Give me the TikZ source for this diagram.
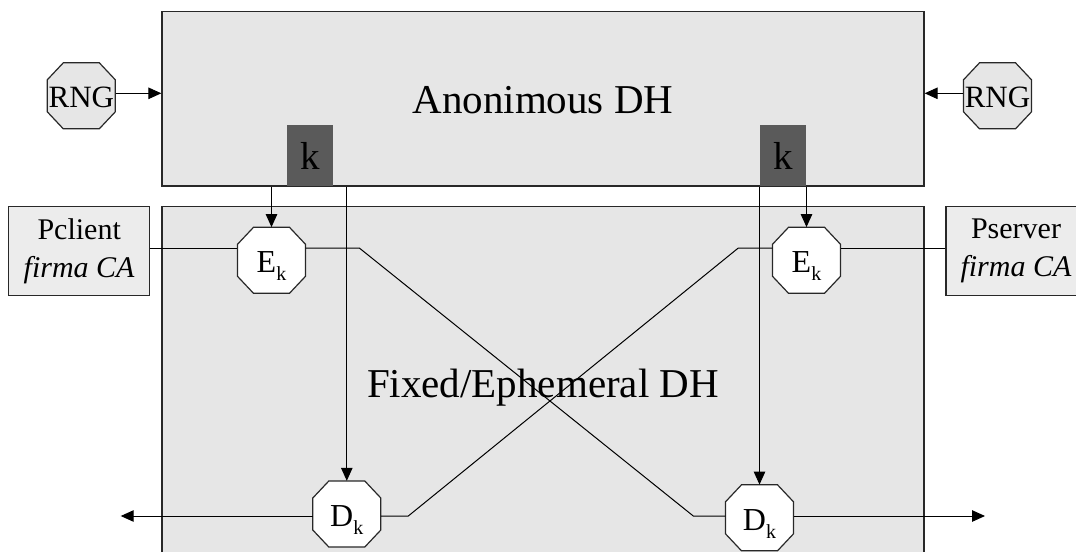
\documentclass[tikz,border=0pt]{standalone}
\usepackage{fontspec}
\setmainfont{Liberation Serif}
\usetikzlibrary{arrows.meta}

\definecolor{panelfill}{RGB}{230,230,230}
\definecolor{partyfill}{RGB}{236,236,236}
\definecolor{keyfill}{RGB}{90,90,90}
\definecolor{edgecol}{RGB}{40,40,40}

\tikzset{
  panel/.style={draw=edgecol, line width=1.3pt, fill=panelfill},
  keybox/.style={fill=keyfill, draw=none, minimum width=45.5pt, minimum height=61pt,
    inner sep=0pt, text depth=0pt, font=\fontsize{39}{39}\selectfont},
  party/.style={draw=edgecol, line width=1.2pt, fill=partyfill, minimum height=88.6pt,
    inner sep=0pt, align=center, font=\fontsize{30}{37.7}\selectfont},
  octframe/.style={inner sep=0pt, minimum width=68pt, minimum height=66pt},
  octline/.style={draw=edgecol, line width=1.2pt},
  title/.style={anchor=base, font=\fontsize{41}{41}\selectfont},
  wire/.style={draw=black, line width=1pt},
  feed/.style={wire, -{Triangle[length=13pt,width=11.5pt]}},
}

% octagon: name, centre, fill colour, label font, label, baseline offset
\newcommand\octat[6]{%
  \node[octframe] (#1) at #2 {};
  \filldraw[octline, fill=#3]
    ([shift={(-18,-33)}]#1.center) -- ([shift={(18,-33)}]#1.center) --
    ([shift={(34,-16)}]#1.center) -- ([shift={(34,16)}]#1.center) --
    ([shift={(18,33)}]#1.center) -- ([shift={(-18,33)}]#1.center) --
    ([shift={(-34,16)}]#1.center) -- ([shift={(-34,-16)}]#1.center) -- cycle;
  \node[anchor=base, inner sep=0pt, font=#4] at ([shift={(0,#6)}]#1.center) {#5};
}
\newcommand\subk{\raisebox{-8pt}{\fontsize{20}{20}\selectfont k}}

\begin{document}
\begin{tikzpicture}[x=1pt, y=-1pt]
  \useasboundingbox (0,0) rectangle (1076,552);

  % lower panel, running off the bottom edge
  \fill[panelfill] (162,206.7) rectangle (924,552);
  \draw[edgecol, line width=1.3pt] (162,552) -- (162,206.7) -- (924,206.7) -- (924,552);
  \node[title] (fixedlbl) at (543,397) {Fixed/Ephemeral DH};

  % upper panel
  \node[panel, minimum width=762pt, minimum height=174.6pt, inner sep=0pt] (top) at (543,98.7) {};
  \node[title] (anonlbl) at (543,113.3) {Anonimous DH};

  % key blocks
  \node[keybox] (k1) at (310,155.5) {k};
  \node[keybox] (k2) at (783,155.5) {k};

  % certificate boxes
  \node[party, minimum width=141pt] (pc) at (79.2,251) {Pclient\\\textit{firma CA}};
  \node[party, minimum width=140pt] (ps) at (1016,251) {Pserver\\\textit{firma CA}};

  % random number generators
  \octat{R1}{(81.3,95.8)}{panelfill}{\fontsize{31}{31}\selectfont}{RNG}{11.5}
  \octat{R2}{(997.5,95.8)}{panelfill}{\fontsize{31}{31}\selectfont}{RNG}{11.5}

  % encryption and decryption stages
  \octat{E1}{(271.5,260.3)}{white}{\fontsize{32}{32}\selectfont}{E\subk}{12.4}
  \octat{E2}{(806.5,260.3)}{white}{\fontsize{32}{32}\selectfont}{E\subk}{12.4}
  \octat{D1}{(346.8,514)}{white}{\fontsize{32}{32}\selectfont}{D\subk}{12.4}
  \octat{D2}{(759.5,517.8)}{white}{\fontsize{32}{32}\selectfont}{D\subk}{12.4}

  % wire rows and bend points
  \coordinate (rowR) at (0,93.3);
  \coordinate (rowE) at (0,248);
  \coordinate (rowD) at (0,516);
  \coordinate (b1) at (359.3,248);
  \coordinate (b2) at (693.3,516);
  \coordinate (b3) at (738.3,248);
  \coordinate (b4) at (408.3,516);
  \coordinate (outL) at (120.7,516);
  \coordinate (outR) at (985,516);

  % RNG feeds
  \draw[feed] (R1.east |- rowR) -- (top.west |- rowR);
  \draw[feed] (R2.west |- rowR) -- (top.east |- rowR);

  % key feeds
  \draw[feed] (top.south -| E1) -- (E1.north);
  \draw[feed] (top.south -| D1) -- (D1.north);
  \draw[feed] (top.south -| E2) -- (E2.north);
  \draw[feed] (top.south -| D2) -- (D2.north);

  % crossing data paths
  \draw[wire] (pc.east |- rowE) -- (E1.west |- rowE);
  \draw[wire] (E1.east |- rowE) -- (b1) -- (b2) -- (D2.west |- rowD);
  \draw[wire] (ps.west |- rowE) -- (E2.east |- rowE);
  \draw[wire] (E2.west |- rowE) -- (b3) -- (b4) -- (D1.east |- rowD);

  % outputs
  \draw[feed] (D1.west |- rowD) -- (outL);
  \draw[feed] (D2.east |- rowD) -- (outR);
\end{tikzpicture}
\end{document}
